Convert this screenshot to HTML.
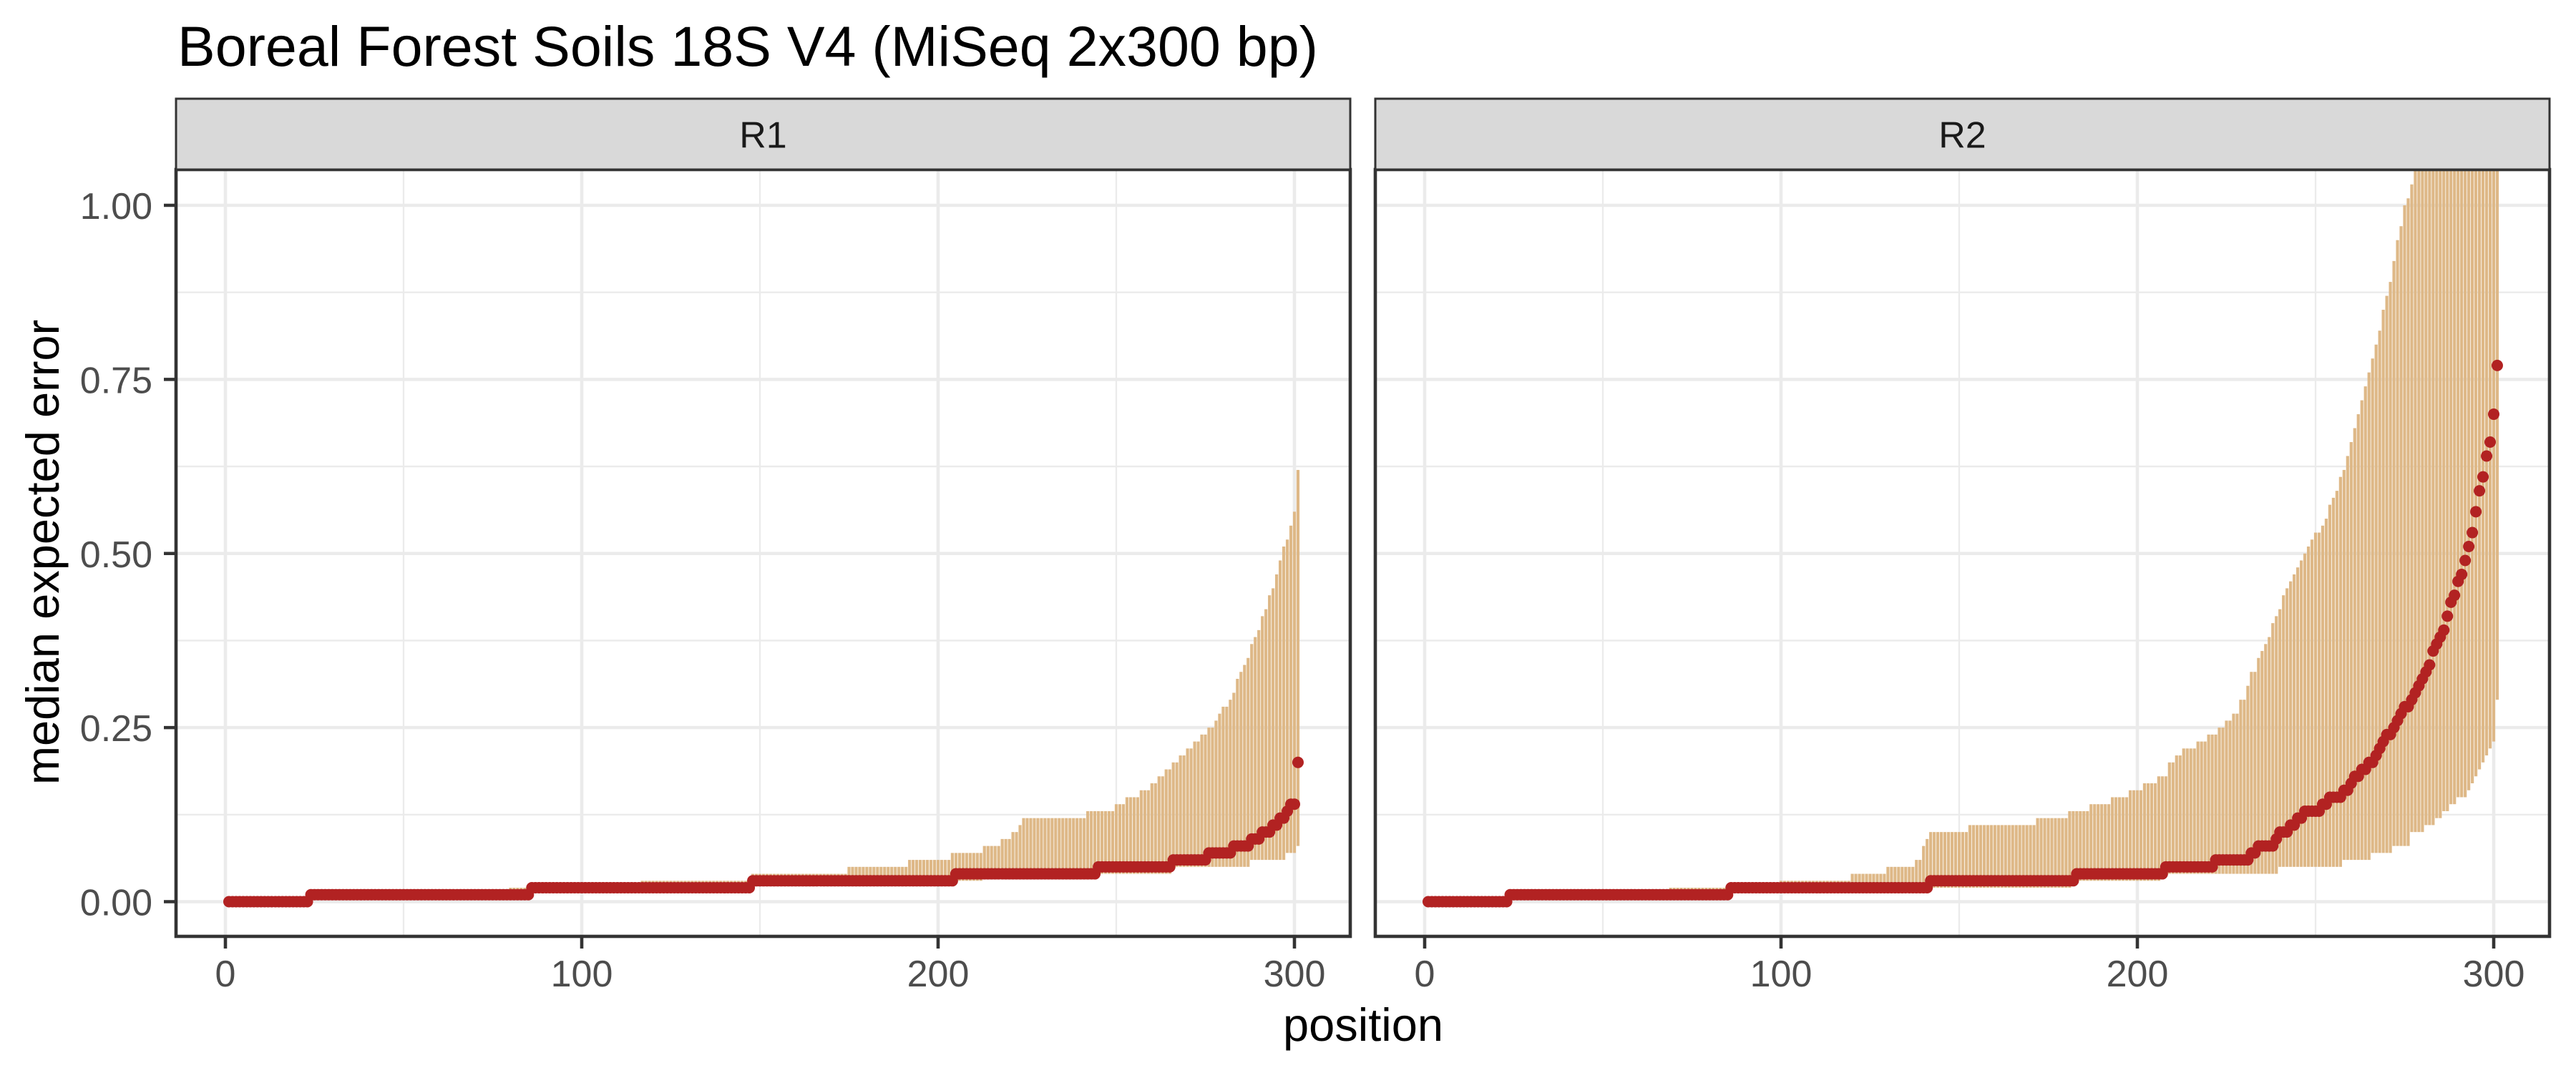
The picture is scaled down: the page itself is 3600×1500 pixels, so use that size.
<!DOCTYPE html>
<html><head><meta charset="utf-8"><title>Boreal Forest Soils 18S V4</title>
<style>html,body{margin:0;padding:0;background:#fff}svg{display:block}text{font-family:"Liberation Sans",Arial,sans-serif}</style>
</head><body>
<svg id="chart" xmlns="http://www.w3.org/2000/svg" width="3600" height="1500" viewBox="0 0 3600 1500">
<rect width="3600" height="1500" fill="#fff"/>
<text x="248" y="92" font-size="79" fill="#000">Boreal Forest Soils 18S V4 (MiSeq 2x300 bp)</text>
<text transform="translate(82,772) rotate(-90)" text-anchor="middle" font-size="65" fill="#000">median expected error</text>
<text x="1905" y="1455" text-anchor="middle" font-size="65" fill="#000">position</text>
<g id="panels"></g>
</svg>
<script>
// ---- data (run-length: [value, count]) followed by per-position tails ----
const panelLabels = ["R1", "R2"];
const xTicks = [0, 100, 200, 300];
const xTickLabels = ["0", "100", "200", "300"];
const yTicks = [0, 0.25, 0.5, 0.75, 1.0];
const yTickLabels = ["0.00", "0.25", "0.50", "0.75", "1.00"];

const r1MedianRuns = [[0,23],[0.01,62],[0.02,62],[0.03,57],[0.04,40],[0.05,21],[0.06,10],[0.07,7],[0.08,5],[0.09,3],[0.10,3],[0.11,2],[0.12,2],[0.13,1],[0.14,2],[0.2,1]];
const r1UpperRuns = [[0,23],[0.01,56],[0.02,37],[0.03,31],[0.04,27],[0.05,17],[0.06,12],[0.07,9],[0.08,5],[0.09,3],[0.10,2],[0.11,1],[0.12,18],[0.13,8]];
const r1UpperTail = [0.14,0.14,0.14,0.15,0.15,0.15,0.15,0.16,0.16,0.16,0.17,0.17,0.18,0.18,0.19,0.19,0.20,0.20,0.21,0.21,0.22,0.22,0.23,0.23,0.24,0.24,0.25,0.25,0.26,0.27,0.28,0.28,0.29,0.30,0.32,0.33,0.34,0.35,0.37,0.38,0.39,0.41,0.42,0.44,0.45,0.47,0.49,0.51,0.52,0.54,0.56,0.62];
const r1LowerRuns = [[0,23],[0.01,62],[0.02,62],[0.03,65],[0.04,53],[0.05,22],[0.06,10],[0.07,3],[0.08,1]];

const r2MedianRuns = [[0,23],[0.01,62],[0.02,56],[0.03,41],[0.04,25],[0.05,14],[0.06,10]];
const r2MedianTail = [0.07,0.07,0.08,0.08,0.08,0.08,0.08,0.09,0.10,0.10,0.10,0.11,0.11,0.12,0.12,0.13,0.13,0.13,0.13,0.13,0.14,0.14,0.15,0.15,0.15,0.15,0.16,0.16,0.17,0.18,0.18,0.19,0.19,0.20,0.20,0.21,0.22,0.23,0.24,0.24,0.25,0.26,0.27,0.28,0.28,0.29,0.30,0.31,0.32,0.33,0.34,0.36,0.37,0.38,0.39,0.41,0.43,0.44,0.46,0.47,0.49,0.51,0.53,0.56,0.59,0.61,0.64,0.66,0.70,0.77];
const r2UpperRuns = [[0,23],[0.01,45],[0.02,31],[0.03,20],[0.04,10],[0.05,8],[0.06,2],[0.08,1],[0.09,1],[0.10,11],[0.11,19],[0.12,9],[0.13,6],[0.14,6],[0.15,5],[0.16,4],[0.17,4],[0.18,3],[0.20,2],[0.21,2],[0.22,4],[0.23,3],[0.24,3],[0.25,2],[0.26,2],[0.27,2],[0.29,2]];
const r2UpperTail = [0.31,0.33,0.33,0.35,0.36,0.37,0.38,0.40,0.41,0.42,0.44,0.45,0.46,0.47,0.48,0.49,0.50,0.51,0.52,0.53,0.53,0.54,0.55,0.57,0.58,0.59,0.61,0.62,0.64,0.66,0.68,0.70,0.72,0.74,0.76,0.78,0.80,0.82,0.85,0.87,0.89,0.92,0.95,0.97,1.00,1.01,1.03,1.06,1.09,1.12,1.15,1.18,1.21,1.25,1.29,1.33,1.37,1.41,1.45,1.50,1.55,1.60,1.65,1.70,1.76,1.82,1.88,1.95,2.02,2.10,2.20];
const r2LowerRuns = [[0,23],[0.01,62],[0.02,96],[0.03,25],[0.04,33],[0.05,18],[0.06,8],[0.07,6],[0.08,5],[0.10,4],[0.11,3],[0.12,2],[0.13,2],[0.14,2],[0.15,3],[0.16,1],[0.17,1],[0.18,1],[0.19,1],[0.20,1],[0.21,1],[0.22,1],[0.23,1],[0.29,1]];

function expand(runs, tail) {
  const out = [];
  runs.forEach(r => { for (let i = 0; i < r[1]; i++) out.push(r[0]); });
  (tail || []).forEach(v => out.push(v));
  return out;
}
const series = [
  {median: expand(r1MedianRuns), upper: expand(r1UpperRuns, r1UpperTail), lower: expand(r1LowerRuns)},
  {median: expand(r2MedianRuns, r2MedianTail), upper: expand(r2UpperRuns, r2UpperTail), lower: expand(r2LowerRuns)}
];

// ---- layout ----
const NS = "http://www.w3.org/2000/svg";
const panelsX = [246, 1922];
const panelW = 1641, plotTop = 237, plotBot = 1309, stripTop = 138;
const pxPerUnit = 4.98, zeroOffset = 69;
function yScale(v) { return 1260.5 - v * 973.5; }
function mk(tag, attrs, parent) {
  const e = document.createElementNS(NS, tag);
  for (const k in attrs) e.setAttribute(k, attrs[k]);
  parent.appendChild(e);
  return e;
}
const root = document.getElementById("panels");
const defs = mk("defs", {}, root);

panelsX.forEach((px, pi) => {
  const xScale = v => px + zeroOffset + v * pxPerUnit;
  const g = mk("g", {}, root);
  
  
  const cp = mk("clipPath", {id: "clip" + pi}, defs);
  mk("rect", {x: px, y: plotTop, width: panelW, height: plotBot - plotTop}, cp);
  [0.125, 0.375, 0.625, 0.875].forEach(v => {
    const l = mk("line", {x1: px, x2: px + panelW, y1: yScale(v), y2: yScale(v), stroke: "#EBEBEB", "stroke-width": 2.3}, g);
    
    
  });
  [50, 150, 250].forEach(v => {
    const l = mk("line", {x1: xScale(v), x2: xScale(v), y1: plotTop, y2: plotBot, stroke: "#EBEBEB", "stroke-width": 2.3}, g);
    
    
  });
  yTicks.forEach(v => {
    const l = mk("line", {x1: px, x2: px + panelW, y1: yScale(v), y2: yScale(v), stroke: "#EBEBEB", "stroke-width": 4.6}, g);
    
    
  });
  xTicks.forEach(v => {
    const l = mk("line", {x1: xScale(v), x2: xScale(v), y1: plotTop, y2: plotBot, stroke: "#EBEBEB", "stroke-width": 4.6}, g);
    
    
  });
  const dg = mk("g", {"clip-path": "url(#clip" + pi + ")"}, g);
  const s = series[pi];
  s.upper.forEach((u, i) => {
    const lo = s.lower[i];
    if (u <= lo) return;
    const r = mk("rect", {x: xScale(i + 1) - 2.1, y: yScale(u), width: 4.2, height: yScale(lo) - yScale(u), fill: "#DEB887"}, dg);
    
    
  });
  s.median.forEach((m, i) => {
    const c = mk("circle", {cx: xScale(i + 1), cy: yScale(m), r: 8, fill: "#B22222"}, dg);
    
    
  });
  const b = mk("rect", {x: px, y: plotTop, width: panelW, height: plotBot - plotTop, fill: "none", stroke: "#333333", "stroke-width": 4.6}, g);
  
  
  const st = mk("rect", {x: px, y: stripTop, width: panelW, height: plotTop - stripTop, fill: "#D9D9D9", stroke: "#333333", "stroke-width": 3}, g);
  
  
  const stt = mk("text", {x: px + panelW / 2, y: (stripTop + plotTop) / 2 + 19, "text-anchor": "middle", "font-size": 52, fill: "#1A1A1A"}, g);
  stt.textContent = panelLabels[pi];
  
  
  xTicks.forEach((v, i) => {
    const t = mk("line", {x1: xScale(v), x2: xScale(v), y1: plotBot, y2: plotBot + 17, stroke: "#333333", "stroke-width": 4.6}, g);
    
    
    const tl = mk("text", {x: xScale(v), y: 1379, "text-anchor": "middle", "font-size": 52, fill: "#4D4D4D"}, g);
    tl.textContent = xTickLabels[i];
    
    
  });
  if (pi === 0) {
    yTicks.forEach((v, i) => {
      const t = mk("line", {x1: px - 17, x2: px, y1: yScale(v), y2: yScale(v), stroke: "#333333", "stroke-width": 4.6}, g);
      
      
      const tl = mk("text", {x: 213, y: yScale(v) + 19, "text-anchor": "end", "font-size": 52, fill: "#4D4D4D"}, g);
      tl.textContent = yTickLabels[i];
      
      
    });
  }
});
</script>
</body></html>
